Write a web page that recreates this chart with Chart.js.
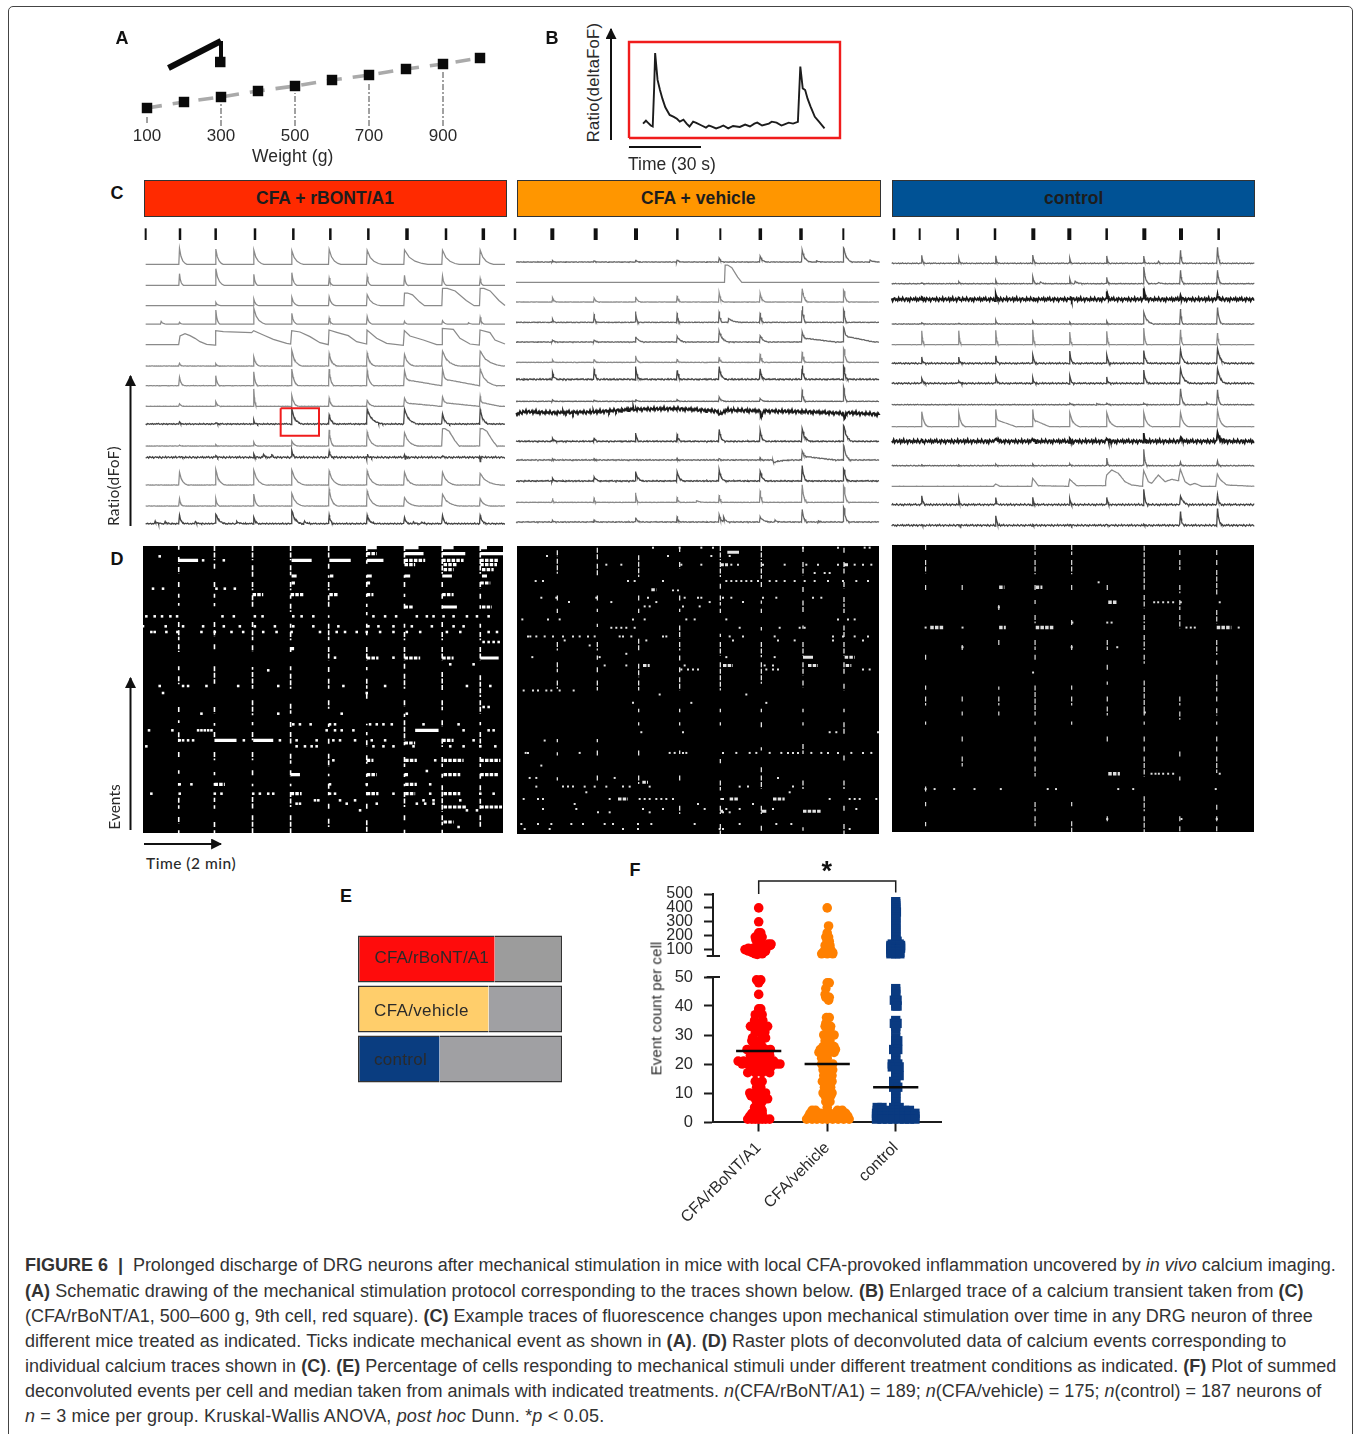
<!DOCTYPE html>
<html><head><meta charset="utf-8"><title>Figure 6</title>
<style>
html,body{margin:0;padding:0;width:1354px;height:1434px;overflow:hidden;background:#fff}
#frame{position:absolute;left:8px;top:6px;width:1345px;height:1500px;border:1px solid #444;border-radius:5px;box-sizing:border-box}
canvas{position:absolute;filter:blur(.4px)}
.t{position:absolute;white-space:nowrap;color:#2a2a2a;font-family:"Liberation Sans",sans-serif;line-height:1}
.banner{position:absolute;border:1px solid #333;box-sizing:border-box}
svg{position:absolute;left:0;top:0}
</style>
<script src="https://cdn.jsdelivr.net/npm/chart.js@4"></script>
</head><body><div id="frame"></div>
<svg width="1354" height="1434" id="deco">
<defs><marker id="ah" viewBox="0 0 10 10" refX="9" refY="5" markerWidth="11" markerHeight="11" markerUnits="userSpaceOnUse" orient="auto"><path d="M0 0L10 5L0 10z" fill="#111"/></marker></defs>
<g stroke="#111" stroke-width="2" fill="none">
<line x1="611" y1="140" x2="611" y2="29" marker-end="url(#ah)"/>
<line x1="629" y1="147" x2="701" y2="147"/>
<line x1="130.5" y1="526" x2="130.5" y2="376" marker-end="url(#ah)"/>
<line x1="130.5" y1="830" x2="130.5" y2="678" marker-end="url(#ah)"/>
<line x1="144" y1="844" x2="221" y2="844" marker-end="url(#ah)"/>
</g></svg>
<script>
// ---------- Panel A ----------
const forceWeights=[100,200,300,400,500,600,700,800,900,1000];
const forceLevels=[18,24,29,35,40,46,51,57,62,68];
const forceTicks=[100,300,500,700,900];
const forceDrops=[[100,3,9],[300,0,23],[500,0,33],[700,0,44],[900,0,55]];
const rampPoints=[[158,58],[300,85]];
const rampStem=[[300,85],[300,66]];
const rampSquare=[[298,64]];
// ---------- Panel B ----------
const transientTime=[5.8,7,7.8,9,9.8,10.4,10.8,11.8,12.8,13.8,15,16.8,18.5,19.8,21,22.5,23.8,25,26.5,27.8,30,31.8,33,34,36,37.8,39,41,43,45.8,48,50,51.8,53,55,57.8,59,61,63,64,66,67.8,69.8,70.8,71.8,72.8,73.8,75,76.8,78.5,80.8];
const transientRatio=[.15,.18,.16,.13,.12,.53,.885,.605,.5,.41,.32,.24,.22,.2,.17,.19,.15,.12,.17,.157,.13,.108,.13,.12,.1,.115,.13,.1,.125,.115,.14,.12,.15,.16,.13,.15,.17,.16,.13,.14,.16,.15,.168,.745,.517,.5,.41,.33,.22,.17,.1];
// ---------- Panel C : stimulus ticks ----------
const stimTicksA=[137,240,347,465,580,691,805,921,1038,1150];
const stimTicksB=[15,127,257,378,502,631,751,873,1000];
const stimTicksC=[27,104,218,330,445,553,665,778,888,1001];
const stimWeightA=[2,2.5,2.5,2.5,2.5,2.5,2.5,3.5,2.5,3.5];
const stimWeightB=[2.5,4,4,4,2.5,2,3.5,3.5,2];
const stimWeightC=[2.5,2,2.5,2.5,4,4,2.5,4,4,2.5];
// ---------- Panel C : transient onsets ----------
const onsetsA=[238,347,461,575,687,801,913,1027,1140];
const onsetsB=[127,252,377,501,627,750,876,1001];
const onsetsC=[110,221,332,443,554,665,776,886,997];
const spanA=[137,1215], spanB=[18,1108], spanC=[20,1108];
const offsetsA=[827,764,703,648,586,522,463,401,348,282,248,165,102,49];
const offsetsB=[834,773,714,653,594,533,482,416,382,296,240,177,113,54];
const offsetsC=[830,769,722,648,586,530,470,406,340,296,223,161,106,44];
const ampsA=[
[48,46,43,41,45,42,43,42,43],[35,50,33,38,22,26,30,28,20],[0,10,20,25,27,33,38,52,52],[5,42,47,32,18,23,8,10,20],
[0,0,0,0,0,0,0,0,0],[8,7,28,47,37,39,35,45,45],[26,30,42,50,50,46,45,50,50],[8,15,52,33,25,18,25,28,30],
[5,4,10,45,28,45,45,32,45],[3,4,12,15,48,42,40,52,52],[5,5,8,22,16,10,10,10,10],[38,47,45,45,42,42,38,38,35],
[22,22,36,38,50,45,25,35,22],[25,30,20,40,25,25,20,25,25]];
const tailsA=[
[22,22,30,35,35,45,70,50,40],[12,25,12,15,12,12,10,12,10],[1,15,15,20,20,40,60,95,75],[10,12,35,15,12,15,10,15,12],
[1,1,1,1,1,1,1,1,1],[12,10,18,30,25,25,30,50,70],[15,12,12,20,15,20,110,110,50],[15,15,8,20,15,25,110,110,60],
[10,10,10,30,20,45,40,20,25],[8,8,12,20,15,30,40,50,50],[8,8,8,12,12,12,10,10,10],[25,28,35,40,35,35,35,40,60],
[12,12,15,35,25,35,40,50,30],[15,30,15,30,15,25,15,15,20]];
const ampsB=[
[4,5,6,8,12,18,35,42],[0,0,0,0,0,0,0,0],[13,12,16,19,28,25,40,35],[10,25,33,30,32,30,48,38],
[6,6,16,17,32,20,30,45],[7,10,20,10,16,26,32,42],[20,30,37,28,37,30,40,38],[4,4,6,6,12,8,35,45],
[0,0,0,0,0,0,0,0],[10,12,25,22,35,32,37,48],[3,5,3,5,5,8,28,45],[7,12,27,28,33,30,45,38],
[12,14,28,16,22,35,52,50],[5,7,14,16,22,15,38,45]];
const tailsB=[
[10,10,12,12,15,20,25,25],[1,1,1,1,1,1,1,1],[15,15,15,12,15,18,18,15],[10,8,8,8,10,10,12,10],
[15,15,25,25,30,25,100,90],[10,10,12,10,12,12,12,15],[15,12,12,12,20,15,12,12],[12,12,12,12,20,20,10,10],
[1,1,1,1,1,1,1,1],[12,12,10,12,18,18,25,25],[8,8,8,8,8,8,100,20],[10,20,20,20,20,20,15,15],
[6,6,8,10,10,10,15,15],[10,12,15,10,15,30,15,15]];
const ampsC=[
[25,15,22,25,15,22,22,38,48],[2,6,10,22,14,20,50,40,40],[2,2,15,3,3,25,35,10,20],[4,2,12,8,5,8,35,45,50],
[42,42,43,45,38,40,50,45,35],[17,17,20,27,35,27,38,40,45],[17,8,20,15,22,17,38,42,45],[0,0,0,0,5,5,5,48,44],
[45,42,52,52,42,42,42,42,50],[2,0,12,10,5,10,20,15,30],[2,2,5,5,6,22,50,12,15],[0,0,0,0,0,0,0,0,0],
[26,18,22,20,18,22,45,28,30],[1,1,28,2,2,2,3,42,48]];
const tailsC=[
[8,8,8,10,8,8,8,8,10],[8,8,8,10,8,8,15,10,12],[8,8,8,8,8,8,8,8,8],[10,8,8,8,8,8,30,8,15],
[8,8,8,8,8,8,10,8,8],[10,10,12,10,12,10,15,20,25],[10,10,12,10,12,10,15,30,25],[8,8,8,8,10,10,10,15,12],
[20,20,60,50,30,30,25,25,25],[8,8,15,10,8,10,10,12,20],[8,8,8,8,8,8,10,8,8],[1,1,1,1,1,1,1,1,1],
[12,8,8,8,8,8,12,25,12],[8,8,10,8,8,8,8,10,15]];
// rows with a plateau ("p") or a slow shoulder ("s")
const shapeKindsA={"2,7":"p","2,8":"p","2,6":"p","6,6":"s","6,7":"s","7,6":"s","7,7":"s","7,8":"s","9,7":"p","9,8":"p"};
const shapeKindsB={"4,6":"s","4,7":"s","10,6":"s"};
const shapeKindsC={"8,2":"s","8,3":"s"};
// extra small events [time, amplitude, tail, kind]
const extrasA={3:[[183,8,15],[1105,4,12]],10:[[490,10,12],[515,8,12],[800,-10,3],[915,-8,3],[1027,-8,3],[1140,-25,4]],13:[[165,6,22],[195,5,18],[285,6,18],[410,6,25],[612,7,20],[940,5,15],[965,5,15]]};
const extrasB={0:[[1080,5,30],[920,3,25]],1:[[645,52,50,"p"]],3:[[655,12,40]],10:[[790,-8,60]],12:[[560,5,25]],13:[[640,15,18],[795,5,20],[925,3,15]]};
const extrasC={1:[[465,5,20],[570,7,25],[820,4,20]],7:[[635,3,20],[965,5,20]],0:[[820,5,10]]};
// hand-read full traces, [time, height above the baseline]
const literalA={4:[[137,0],[236,0],[240,26],[255,33],[270,27],[285,19],[300,9],[320,1],[345,-1],[347,42],[370,39],[455,36],[461,42],[490,29],[520,16],[560,4],[572,2],[575,42],[600,38],[630,24],[660,6],[685,0],[687,44],[710,37],[745,27],[770,9],[800,2],[801,44],[830,19],[860,4],[910,-2],[913,42],[930,26],[970,14],[1010,0],[1026,0],[1027,49],[1060,46],[1080,19],[1110,2],[1138,-1],[1140,44],[1170,36],[1185,14],[1215,2]]};
const literalB={8:[[18,-5],[40,3],[130,0],[250,2],[370,10],[500,12],[620,5],[630,-5],[650,8],[750,5],[752,-15],[760,5],[880,3],[1000,-2],[1003,-20],[1010,0],[1108,-5]]};
const literalC={11:[[20,0],[325,0],[332,7],[345,0],[440,0],[443,24],[460,2],[550,0],[554,21],[575,2],[660,2],[665,34],[680,49],[700,39],[720,14],[740,4],[772,0],[776,47],[790,14],[800,9],[820,34],[840,14],[860,21],[880,17],[886,51],[900,14],[915,4],[930,9],[950,0],[992,0],[997,37],[1005,21],[1025,4],[1108,0]]};
const noiseA=[0,0,0,0,0,.5,.5,.5,2,.5,3,.3,.3,2];
const noiseB=[1,0,.6,1.2,1.2,.8,2.5,1,6,2,1.8,2,.6,1.5];
const noiseC=[1.5,1.2,6,1,.3,2.5,2.5,1.2,.3,6,1.5,.3,3,3];
const wobble=[.3,-.6,.8,-.2,-.9,.5,.1,-.4,.9,-.7,.2,.6,-.5,-.1,.7,-.8,.4,-.3,1,-.6,-.2,.5,-.9,.3,.6,-.4,.1,-.7,.8,-.3,.2,-.5,.9,-.1,-.8,.4,.6,-.6,.2,-.9,.7,.1,-.4,.5,-.2,.8,-.7,.3,-.5,.6,-.1,.9,-.6,-.3,.4,-.8,.7,.2,-.4,.5,-.9,.1,.6,-.2];
// shapes of the decay, [fraction of tail, fraction of amplitude]
const kernelFast=[[0,1],[.2,.5],[.45,.22],[.75,.06],[1,0]];
const kernelPlateau=[[0,1],[.15,1],[.4,.85],[.75,.3],[1,0]];
const kernelSlow=[[0,1],[.05,.5],[.12,.36],[1,0]];
const redBoxA=[[542,395],[657,395],[657,313],[542,313],[542,395]];
// ---------- Panel D : rasters, streaks [column, from, to ...], bursts [row, from, to, solid?], rows [row, columns] ----------
const streaksA=[
[237,17,28,50,70,80,100,125,140,160,172,188,196,245,262,270,300,312,335,378,390,408,432,500,518,540,548,576,605,635,650,690,700,728,736,772,790,795,805,830,850,870,878],
[344,17,60,70,90,125,140,160,172,188,198,245,262,270,290,312,330,378,430,500,520,548,556,575,590,635,660,695,705,728,736,772,785,795,805,845,860,870,878],
[458,17,60,75,110,125,150,165,200,245,262,270,300,315,335,380,388,395,445,480,525,545,555,575,600,635,660,690,705,730,738,770,805,825,878],
[572,17,60,75,105,125,150,165,175,190,215,250,262,275,300,320,335,378,390,400,445,490,520,545,560,575,610,640,670,690,710,730,738,755,800,825,878],
[686,17,55,70,85,105,112,125,150,165,200,225,232,250,300,320,360,380,395,415,445,480,505,550,560,595,612,640,680,700,708,730,745,755,765,790,810,835,860],
[800,17,50,60,70,105,112,125,140,160,170,190,200,215,225,250,262,275,285,320,360,380,390,415,445,460,480,550,555,575,585,600,620,645,670,700,710,730,738,755,765,790,805,840,878],
[913,17,70,105,112,125,140,160,170,190,210,250,262,275,300,320,360,370,390,400,445,480,500,520,530,540,600,605,615,650,680,700,710,730,738,755,800,825,840,868,878],
[1026,17,100,125,140,160,175,195,205,245,262,275,300,320,360,395,450,480,510,540,560,595,620,650,680,700,712,735,815,825,855,868,878],
[1140,17,100,125,145,160,175,195,205,250,262,275,300,320,360,405,470,480,520,545,555,575,620,650,680,700,715,735,755,775,805,825,860]];
const burstsA=[[60,237,295,1],[60,575,635,1],[60,688,752,1],[60,800,850,1],[22,800,830,1],[22,913,955,1],[22,1026,1060,1],[22,1140,1160,1],[40,800,830],[40,913,970,1],[40,1026,1095,1],[40,1140,1208,1],[60,913,975],[60,1026,1090],[60,1140,1195],[73,913,945],[73,1030,1070],[73,1140,1190],[88,1030,1060],[88,1145,1180],[107,575,590,1],[107,690,700,1],[107,800,815,1],[107,913,930,1],[107,1026,1055,1],[107,1145,1160,1],[128,575,585],[128,800,810],[128,1140,1170],[163,458,490],[163,572,610],[163,688,715],[163,800,820],[163,1026,1060],[200,913,940],[200,1026,1070,1],[200,1145,1175],[353,800,835],[353,913,960],[353,1026,1060],[353,1140,1195,1],[600,344,410,1],[600,460,520,1],[608,913,945],[600,1026,1060],[570,945,1015,1],[660,800,820],[660,915,950],[660,1030,1090],[660,1140,1200],[703,572,600,1],[703,800,830],[703,913,925],[703,1030,1080],[703,1140,1195],[732,344,375],[732,915,950],[760,572,605],[760,800,835],[760,915,945],[760,1030,1080],[800,1030,1100],[800,1140,1205],[845,1030,1060],[325,572,585]];
const rowsA=[[48,[180]],[60,[310,372]],[145,[160,190,350,375,405]],[228,[140,165,187,212,232,368,402,465,488,580,605,640,820,855,888,950,980,1000,1030,1060,1100,1130,1165]],[258,[130,198,250,310,372,420,465,525,580,640,715,805,835,880,935,995,1060,1090]],[275,[155,165,200,233,305,345,395,430,490,530,575,660,710,735,770,800,840,880,920,960,1040,1080,1165,1190]],[305,[1150,1165,1180,1195]],[352,[705,880]],[372,[1050,1120]],[390,[505]],[437,[180,250,265,320,415,535,730,855,1100,1170]],[458,[190,800]],[500,[1150,1165]],[520,[305,535,725,920]],[552,[580,600,632,690,705,810,830,850,875,970,1075]],[570,[148,218,295,305,315,325,335,680,705,725,760,1090,1165,1180]],[600,[240,250,265,280,432,540,590,650,700,720,765,815,855,1120]],[618,[140,590,615,635,650,820,850,880,940,1050,1090,1140,1185]],[660,[700,1005]],[692,[980]],[732,[240,275,690,800,990]],[760,[155,240,345,365,460,480,505,520,690,705,880,990,1140,1180]],[780,[645,655,720,765,970,1000,1080]],[790,[590,600,740,830,950,975,1000]],[810,[780,1100,1130]],[860,[1075]]];
const streaksB=[
[143,30,50,55,100,165,180,205,218,305,330,365,395,420,445,595,605,635,645,710,720],
[263,22,60,70,105,165,180,205,215,250,260,305,330,345,358,380,400,420,450,595,605,630,645,705,720],
[387,45,110,165,180,205,218,295,330,370,410,420,450,505,515,545,555,630,645,705,730],
[510,22,35,65,85,165,185,205,215,255,295,305,330,345,360,380,395,410,450,505,515,545,555,630,640,705,720,795,820],
[632,17,60,65,110,130,145,165,195,205,218,280,290,305,345,365,450,505,515,545,555,655,668,720,750,795,820,850,880],
[755,17,60,65,115,125,140,180,190,205,218,260,270,305,350,365,430,505,515,545,560,620,630,680,695,705,745,795,820,855,870],
[880,22,35,65,105,140,155,180,218,255,265,305,345,365,405,420,440,505,515,545,555,610,640,720,745,860,870],
[1003,22,40,65,100,125,145,170,200,205,218,255,290,305,345,365,400,430,450,505,515,545,580,645,660,720,745,795,815,850,880]];
const burstsB=[[36,653,688,1],[73,632,655],[73,1003,1015,1],[350,880,910,1],[350,1005,1035],[375,400,420],[375,640,670],[375,895,925],[375,1008,1025],[812,880,935],[812,632,640,1],[812,755,770,1],[148,425,440],[725,398,415],[775,325,355],[775,660,685],[775,790,825]];
const rowsB=[[22,[430,510,575,610,880,985,1065,1080]],[47,[112,475,605,660]],[73,[290,335,515,575,665,685,760,825,890,925,985,1035,1060,1085]],[98,[915,945,960]],[122,[78,100,355,375,460,650,665,680,695,710,725,745,780,800,825,855,885,915,955,1000,1040,1075]],[150,[490,505]],[172,[95,140,260,415,525,565,575,640,665,760,800,910,935]],[185,[178,305,440,600,700]],[198,[405,420,520,570]],[237,[38,115,150,370,405,530,555,650,985,1015,1035]],[262,[305,320,335,350,375,690,810,870,885]],[288,[55,62,80,105,130,160,190,210,235,255,330,340,365,460,470,660,700,795,970,1000,1035,1075]],[300,[165,410,670,805,855,970,1060]],[315,[240]],[340,[350]],[350,[68,270,650,795]],[375,[285,350,525,765,790]],[387,[515,535,550,565,770,790,805,1060,1080]],[450,[42,70,85,110,125,150,192]],[462,[450,710]],[487,[370,545,770]],[575,[395,520,960,980,1105]],[600,[105]],[637,[48,55,210,480,495,520,530,640,680,720,740,780,815,835,850,865,905,935,955,985,1025,1060,1085]],[675,[95]],[712,[60,80,315,805]],[738,[80,160,175,190,225,255,290,340,360,420,690,715,850]],[755,[230,840]],[775,[42,85,100,300,390,405,420,440,455,470,490,635,640,960,1020,1035,1050,1100]],[790,[195,565,730]],[805,[100,200,400,460,585,650,690,790,1040]],[815,[265,300,420,640,660]],[850,[35,85,125,185,220,285,310,385,425,555,690,800,845]],[865,[45,120,340,385,630,640,1020]]];
const streaksC=[
[121,15,30,60,100,135,150,345,360,437,450,470,497,545,555,740,755,787,800,847,860],
[231,135,150,315,330,470,485,515,527,590,605,650,680],
[341,195,210,300,315,440,450,470,497,515,527],
[450,15,45,60,103,135,150,180,192,225,250,300,330,345,360,437,527,545,555,590,605,620,635,650,665,680,710,787,815,830,860],
[560,15,45,60,103,135,150,240,255,315,330,437,450,470,497,545,555,787,800,845,877],
[667,135,150,300,330,375,390,425,435,470,485,500,527,590,605,830,845],
[778,17,150,165,205,225,250,255,270,285,330,345,372,422,515,515,527,545,555,590,605,620,635,650,710,770,815,830,877],
[885,30,45,60,90,135,160,180,210,225,265,470,497,515,540,635,650,710,722,830,845,860,877],
[996,30,45,60,75,90,165,210,250,300,345,362,375,405,455,470,485,505,527,545,555,590,605,620,635,650,700,795,815,830,845,860,877]];
const burstsC=[[142,342,358],[142,452,472],[187,670,698],[263,135,175],[263,342,362],[263,452,505],[263,996,1040],[702,670,705]];
const rowsC=[[127,[641]],[187,[808,820,835,850,865,888,1005]],[202,[341]],[248,[562,667,680]],[263,[121,232,905,918,930,1062]],[322,[232,560,697]],[398,[444]],[702,[800,812,822,835,850,865,1005]],[748,[121,148,207,268,347,488,513,700,745,993]],[518,[780]],[838,[667,890,996]]];
// ---------- Panel E ----------
const shareNames=["CFA/rBoNT/A1","CFA/vehicle","control"];
const shareResponding=[67,64,40];
const shareOther=[33,36,60];
// ---------- Panel F : [value, offsets from the category centre] ----------
const swarmRedLow=[[49,-.03,.03],[48,.0],[44,0],[39,0,.03],[37,-.05,.05],[35,-.06,.06],[33,-.12,-.05,.02,.08,.13],[31,-.05,.03,.09],[29,-.09,.05,.1],[28,-.1,-.03,.03],[26,-.05,.05],[25,-.17,-.1,-.04,.03,.1,.17],[23,-.12,0,.08,.16],[21,-.3,-.22,-.14,-.05,.03,.12,.22],[20,-.24,-.16,-.05,.05,.16,.26,.31],[19,-.12,0,.1,.18],[17,-.16,-.05,.05,.16],[14,-.05,.05],[12,-.03,.03],[10,-.13,-.05,.03,.1],[9,-.11,0,.08],[8,-.05,.05,.13],[7,-.03,.05],[5,-.06,.03],[4,-.06,.05],[3,-.1,-.03,.05],[2,-.13,-.05,.05],[1,-.16,-.1,-.05,0,.05,.1,.16]];
const swarmRedHigh=[[400,0],[300,0],[220,0,.03],[190,-.05,.05],[170,0,-.04,.03],[140,-.02,.05,.14,.18],[130,.1,.17],[110,-.15,-.08,.02,.08],[100,-.2,-.12,-.05,.05,.1],[90,-.15,-.05,0,.1],[80,-.1,-.02,.07],[70,-.05,.05],[65,-.02]];
const swarmOrangeLow=[[48,0,.03],[46,-.02],[44,-.03],[43,-.02,.03],[42,.02],[36,-.01,.03],[34,-.02],[33,-.03,.05],[32,0,.04],[30,-.05,0,.06,.1],[28,-.03,.04],[26,-.06,.03,.1],[25,-.1,-.03,.05,.12],[24,-.12,-.05,.03,.1],[22,-.08,0],[20,-.08,0,.08],[18,-.06,.03,.08],[16,-.05,.02,.07],[14,-.07,0,.07],[12,-.04,.05],[10,-.06,.02,.07],[9,-.03,.05],[7,-.02,.04],[5,0],[4,-.22,-.17,.15,.22],[3,-.25,-.18,-.1,-.03,.04,.12,.2,.27],[2,-.27,-.2,-.12,-.04,.05,.14,.22,.3],[1,-.3,-.22,-.15,-.07,0,.08,.16,.24,.32]];
const swarmOrangeHigh=[[400,0],[270,.02],[220,0],[190,-.02,.02],[160,0,.03],[130,-.03,.04],[100,-.03,.05],[80,-.06,.03,.08],[70,-.08,0,.08]];
const swarmBlueLow=[[46,0],[45,0],[44,0],[42,-.02,.02],[41,0],[40,0,.02],[35,0],[34,-.02,.02],[33,0],[32,0],[29,0],[28,0,.03],[27,0],[26,0],[25,-.03,.03],[24,0],[22,0],[21,0],[20,-.05,.03],[19,-.05,.05],[18,0],[16,0,.05],[15,0],[14,-.03],[13,0],[12,-.03,.03],[11,0],[10,0],[9,0],[8,0],[7,0],[6,0],[5,-.27,-.2,-.03,.05],[4,-.27,-.2,-.12,-.03,.05,.13,.2],[3,-.28,-.2,-.12,-.04,.05,.13,.2,.28],[2,-.28,-.2,-.12,-.04,.05,.13,.2,.28],[1,-.28,-.2,-.12,-.04,.05,.13,.2,.28]];
const swarmBlueHigh=[[445,0],[430,0],[415,0],[400,0],[385,0],[370,.01],[350,0],[335,0],[320,0],[300,0],[285,0],[270,0],[250,0],[235,0],[220,0],[205,0],[190,0],[170,0],[160,0,.02],[150,0],[140,-.05,.05],[130,-.07,0,.07],[120,-.07,0,.07],[110,-.07,.07],[100,-.07,0,.05],[90,-.05,.05],[80,-.07,0,.06],[70,-.07,0,.06]];
const swarmMedians=[24.5,20,12];
const swarmNames=["CFA/rBoNT/A1","CFA/vehicle","control"];
const bracketLevels=[[1,500],[1,594],[3,594],[3,510]];
const captionLines=[
'<b>FIGURE 6&nbsp; |&nbsp;</b> Prolonged discharge of DRG neurons after mechanical stimulation in mice with local CFA-provoked inflammation uncovered by <i>in vivo</i> calcium imaging.',
'<b>(A)</b> Schematic drawing of the mechanical stimulation protocol corresponding to the traces shown below. <b>(B)</b> Enlarged trace of a calcium transient taken from <b>(C)</b>',
'(CFA/rBoNT/A1, 500–600 g, 9th cell, red square). <b>(C)</b> Example traces of fluorescence changes upon mechanical stimulation over time in any DRG neuron of three',
'different mice treated as indicated. Ticks indicate mechanical event as shown in <b>(A)</b>. <b>(D)</b> Raster plots of deconvoluted data of calcium events corresponding to',
'individual calcium traces shown in <b>(C)</b>. <b>(E)</b> Percentage of cells responding to mechanical stimuli under different treatment conditions as indicated. <b>(F)</b> Plot of summed',
'deconvoluted events per cell and median taken from animals with indicated treatments. <i>n</i>(CFA/rBoNT/A1) = 189; <i>n</i>(CFA/vehicle) = 175; <i>n</i>(control) = 187 neurons of',
'<i>n</i> = 3 mice per group. Kruskal-Wallis ANOVA, <i>post hoc</i> Dunn. *<i>p</i> &lt; 0.05.'];
const captionRight=[1336,1304,1313,1286,1336,1321,604];
const captionY=[1265,1291,1316,1341,1366,1391,1416];

// ---------- helpers ----------
Chart.defaults.animation=false;
Chart.defaults.events=[];
Chart.defaults.plugins.legend.display=false;
Chart.defaults.plugins.tooltip.enabled=false;
Chart.defaults.font.family='"Liberation Sans",sans-serif';
Chart.defaults.elements.point.radius=0;
Chart.defaults.elements.line.tension=0;
Chart.defaults.layout.autoPadding=false;
const INK='#2a2a2a';
function place(l,t,w,h,bg){const c=document.createElement('canvas');c.width=w;c.height=h;
  c.style.left=l+'px';c.style.top=t+'px';c.style.width=w+'px';c.style.height=h+'px';if(bg)c.style.background=bg;
  document.body.appendChild(c);return c;}
function draw(l,t,w,h,datasets,scales,padding,bg){
  return new Chart(place(l,t,w,h,bg),{type:'scatter',data:{datasets},
    options:{responsive:false,devicePixelRatio:1,scales,layout:{autoPadding:false,padding:padding||0}}});}
const hidden=(min,max,reverse)=>({type:'linear',display:false,min,max,reverse:!!reverse});
const pairs=a=>a.map(p=>({x:p[0],y:p[1]}));
const stroke=(data,color,w,more)=>Object.assign({data,borderColor:color,backgroundColor:color,borderWidth:w,showLine:true,pointRadius:0,clip:false},more||{});
function text(str,cx,cy,o){o=o||{};const d=document.createElement('div');d.className='t';d.innerHTML=str;
  d.style.font=`${o.weight||'normal'} ${o.size||16}px ${o.family||'"Liberation Sans",sans-serif'}`;
  if(o.color)d.style.color=o.color;
  document.body.appendChild(d);
  if(o.width){const n=d.textContent.length;d.style.letterSpacing=((o.width-d.offsetWidth)/n)+'px';}
  const w=d.offsetWidth,h=d.offsetHeight;
  d.style.left=(cx-w/2)+'px';d.style.top=(cy-h/2)+'px';
  if(o.rot)d.style.transform=`rotate(${o.rot}deg)`;
  return d;}

// ---------- Panel A ----------
draw(100,20,420,150,[
  {data:forceWeights.map((x,i)=>({x,y:forceLevels[i]})),pointStyle:'rect',pointRadius:7.4,backgroundColor:'#0a0a0a',borderWidth:0,clip:false},
  {data:pairs(rampSquare),pointStyle:'rect',pointRadius:7.4,backgroundColor:'#0a0a0a',borderWidth:0,clip:false},
  stroke(pairs(rampPoints),'#0a0a0a',6,{borderCapStyle:'butt'}),
  stroke(pairs(rampStem),'#0a0a0a',4),
  stroke(forceWeights.map((x,i)=>({x,y:forceLevels[i]})),'#aaaaaa',3.6,{borderDash:[15,11]}),
  ...forceDrops.map(d=>stroke(pairs([[d[0],d[1]],[d[0],d[2]]]).map(p=>p),'#444',1,{borderDash:[6,2,2,2]}))
],{
  x:{type:'linear',min:100-47/.37,max:100+373/.37,grid:{display:false,drawTicks:false},border:{display:false},
     afterBuildTicks:a=>{a.ticks=forceTicks.map(value=>({value}));},
     afterFit:s=>{s.height=44;s.paddingLeft=0;s.paddingRight=0;},
     ticks:{color:INK,font:{size:17},padding:0,maxRotation:0,autoSkip:false}},
  y:hidden(0,106)
});
text('Weight (g)',292.5,156.5,{width:81,size:17.5});
text('A',122,38,{weight:'bold',size:18,color:'#111'});
text('B',552,38,{weight:'bold',size:18,color:'#111'});
text('C',117,193,{weight:'bold',size:18,color:'#111'});
text('D',117,559,{weight:'bold',size:18,color:'#111'});
text('E',346,896,{weight:'bold',size:18,color:'#111'});
text('F',635,870,{weight:'bold',size:18,color:'#111'});

// ---------- Panel B ----------
draw(627,40,216,100,[
  stroke(transientTime.map((x,i)=>({x,y:transientRatio[i]})),'#1c1c1c',1.9),
  stroke(pairs([[0,0],[87.2,0],[87.2,1],[0,1],[0,0]]),'#f01c1c',2.4)
],{x:hidden(-.83,88.44),y:hidden(-.021,1.021)});
text('Ratio(deltaFoF)',594,82,{width:120,rot:-90,size:16.5});
text('Time (30 s)',672,164,{width:88,size:17.5});

// ---------- Panel C banners ----------
[[143.5,363,'#ff2a00','CFA + rBONT/A1',138],[516.5,364,'#ff9600','CFA + vehicle',115],[892,363,'#005295','control',59]].forEach(b=>{
  const d=document.createElement('div');d.className='banner';d.style.cssText+=`left:${b[0]}px;top:179.5px;width:${b[1]}px;height:37.5px;background:${b[2]}`;
  document.body.appendChild(d);
  text(b[3],b[0]+b[1]/2,198,{weight:'bold',size:17.5,width:b[4],color:'#1d1d1d'});
});

// ---------- Panel C traces ----------
const kernels={f:kernelFast,p:kernelPlateau,s:kernelSlow};
function evalCurve(c,x){if(x<=c[0][0]||x>=c[c.length-1][0])return (x<=c[0][0]?c[0][1]:c[c.length-1][1]);
  for(let i=1;i<c.length;i++)if(x<=c[i][0]){const a=c[i-1],b=c[i];return a[1]+(b[1]-a[1])*(x-a[0])/(b[0]-a[0]||1);}return 0;}
function traceData(row,offset,span,onsets,amps,tails,kinds,extras,literal,noise){
  const curves=[];
  const addEvent=(t,a,tail,k)=>{if(!a)return;const K=kernels[k||'f'];
    curves.push([[t-1.5,0],[t+.5,a],...K.slice(1).map(p=>[t+.5+p[0]*tail,a*p[1]])]);};
  onsets.forEach((t,i)=>addEvent(t,amps[i],tails[i],kinds[row+','+i]));
  (extras[row]||[]).forEach(e=>addEvent(e[0],e[1],e[2],e[3]));
  if(literal[row])curves.push(literal[row]);
  const xs=new Set([span[0],span[1]]);
  curves.forEach(c=>c.forEach(p=>{if(p[0]>=span[0]&&p[0]<=span[1])xs.add(p[0]);}));
  if(noise)for(let x=span[0];x<=span[1];x+=3)xs.add(x);
  return [...xs].sort((a,b)=>a-b).map(x=>{
    let y=0;curves.forEach(c=>{y+=evalCurve(c,x);});
    if(noise)y+=noise*wobble[(Math.round(x/3)+row*7)%wobble.length];
    return {x,y:offset+y};});
}
function tracePanel(l,w,span,ticks,weights,onsets,offsets,amps,tails,kinds,extras,literal,noise,annot){
  const ds=[];
  offsets.forEach((o,r)=>{
    const n=noise[r];
    ds.push(stroke(traceData(r,o,span,onsets,amps[r],tails[r],kinds,extras,literal,n),n>=4?'#1a1a1a':n>=2?'#444':n>=1?'#666':'#8a8a8a',n>=4?1.8:n>=2?1.3:1.25));
  });
  ticks.forEach((x,i)=>ds.push(stroke(pairs([[x,900],[x,935]]),'#111',weights[i])));
  if(annot)ds.unshift(stroke(pairs(annot),'#f01c1c',2));
  draw(l,220,w,320,ds,{x:hidden(0,w*3),y:hidden(0,960)});
}
tracePanel(100,410,spanA,stimTicksA,stimWeightA,onsetsA,offsetsA,ampsA,tailsA,shapeKindsA,extrasA,literalA,noiseA,redBoxA);
tracePanel(510,380,spanB,stimTicksB,stimWeightB,onsetsB,offsetsB,ampsB,tailsB,shapeKindsB,extrasB,literalB,noiseB);
tracePanel(885,380,spanC,stimTicksC,stimWeightC,onsetsC,offsetsC,ampsC,tailsC,shapeKindsC,extrasC,literalC,noiseC);
text('Ratio(dFoF)',113,486,{family:'Lato',size:15.5,width:80,rot:-90});

// ---------- Panel D rasters ----------
function raster(l,t,w,h,xr,yr,streaks,bursts,rows,white,sw,bw,dr){
  const sp=[],bs=[],bd=[];
  streaks.forEach(s=>{for(let i=1;i<s.length;i+=2){sp.push({x:s[0],y:s[i]},{x:s[0],y:s[i+1]},{x:s[0],y:NaN});}});
  bursts.forEach(b=>{(b[3]?bs:bd).push({x:b[1],y:b[0]},{x:b[2],y:b[0]},{x:b[2],y:NaN});});
  const dp=[];rows.forEach(r=>r[1].forEach(x=>dp.push({x,y:r[0]})));
  draw(l,t,w,h,[
    stroke(sp,white,sw,{spanGaps:false,clip:true,borderDash:[5,1.5]}),
    stroke(bs,white,bw,{spanGaps:false,clip:true}),
    stroke(bd,white,bw,{spanGaps:false,clip:true,borderDash:[3.5,1.2]}),
    {data:dp,pointStyle:'rect',pointRadius:dr,backgroundColor:white,borderWidth:0}
  ],{x:hidden(xr[0],xr[1]),y:hidden(yr[0],yr[1],true)},0,'#000');
}
raster(143,546,360,287,[130,1208],[17,878],streaksA,burstsA,rowsA,'#ffffff',1.6,3.2,1.8);
raster(517,546,362,288,[22,1108],[17,880],streaksB,burstsB,rowsB,'#e4e4e4',1.3,3,1.4);
raster(892,545,362,287,[20,1108],[15,877],streaksC,burstsC,rowsC,'#dddddd',1.2,3.4,1.4);
text('Events',113,807,{family:'Lato',size:15.5,width:45,rot:-90});
text('Time (2 min)',191,863,{family:'Lato',size:15.5,width:90,weight:'500'});

// ---------- Panel E ----------
new Chart(place(358,934,204,150),{type:'bar',data:{labels:shareNames,datasets:[
  {data:shareResponding,backgroundColor:['#fe0c0c','#ffce6b','#0a3d80'],borderColor:'#333',borderWidth:{left:1.5,top:1.5,bottom:1.5,right:0},borderSkipped:false,barPercentage:.94,categoryPercentage:1},
  {data:shareOther,backgroundColor:['#9c9c9c','#a0a0a3','#a0a0a3'],borderColor:'#333',borderWidth:{left:0,top:1.5,bottom:1.5,right:1.5},borderSkipped:false,barPercentage:.94,categoryPercentage:1}
]},options:{indexAxis:'y',responsive:false,devicePixelRatio:1,layout:{autoPadding:false},
  scales:{x:{type:'linear',display:false,stacked:true,min:0,max:100},y:{type:'category',display:false,stacked:true}}}});
text(shareNames[0],431.5,958,{width:114,size:17});
text(shareNames[1],421.5,1011,{width:95,size:17});
text(shareNames[2],400.5,1060,{width:53,size:17});

// ---------- Panel F ----------
function swarm(rows,cat){const out=[];rows.forEach(r=>{for(let i=1;i<r.length;i++)out.push({x:cat+r[i],y:r[0]});});return out;}
const xMin=.333,xMax=3.661;
const dot=(data,c,style,r)=>({data,backgroundColor:c,borderWidth:0,pointStyle:style,pointRadius:r,clip:false});
const axisY=(min,max,ticks,size)=>({type:'linear',min,max,position:'left',
  afterBuildTicks:a=>{a.ticks=ticks.map(value=>({value}));},
  afterFit:s=>{s.width=83;s.paddingTop=0;s.paddingBottom=0;},
  border:{display:true,color:'#1c1c1c',width:2},
  grid:{display:true,drawOnChartArea:false,drawTicks:true,tickLength:9,tickColor:'#1c1c1c',tickWidth:2},
  ticks:{color:INK,font:{size},padding:11,autoSkip:false}});
draw(630,875,330,85,[
  stroke(pairs(bracketLevels),'#1c1c1c',1.5),
  stroke(pairs([[.241,54],[.435,54]]),'#1c1c1c',2),
  dot(swarm(swarmRedHigh,1),'#ff0000','circle',4.8),
  dot(swarm(swarmOrangeHigh,2),'#ff8000','circle',4.8),
  dot(swarm(swarmBlueHigh,3),'#0a3a80','rect',6.6)
],{x:{type:'linear',display:false,min:xMin,max:xMax},y:axisY(54,500,[100,200,300,400,500],16)},{top:19,bottom:4,right:19});
draw(630,960,330,270,[
  ...swarmMedians.map((m,i)=>stroke(pairs([[i+1-.33,m],[i+1+.33,m]]),'#0a0a0a',2.6)),
  stroke(pairs([[.241,50],[.435,50]]),'#1c1c1c',2),
  dot(swarm(swarmRedLow,1),'#ff0000','circle',4.8),
  dot(swarm(swarmOrangeLow,2),'#ff8000','circle',4.8),
  dot(swarm(swarmBlueLow,3),'#0a3a80','rect',6.6)
],{
   x:{type:'linear',min:xMin,max:xMax,
     afterBuildTicks:a=>{a.ticks=[1,2,3].map(value=>({value}));},
     afterFit:s=>{s.height=108;s.paddingLeft=0;s.paddingRight=0;},
     border:{display:true,color:'#1c1c1c',width:2},
     grid:{display:true,drawOnChartArea:false,drawTicks:true,tickLength:9.5,tickColor:'#1c1c1c',tickWidth:2},
     ticks:{color:INK,font:{size:16},minRotation:45,maxRotation:45,padding:7,autoSkip:false,callback:v=>swarmNames[v-1]}},
   y:axisY(0,50,[0,10,20,30,40,50],16.5)},{top:17,right:19});
text('Event count per cell',656,1008,{size:15,width:134,rot:-90});
text('*',827,871,{weight:'bold',size:27,color:'#111'});

// ---------- caption ----------
captionLines.forEach((h,i)=>{
  const d=document.createElement('div');d.className='t';d.innerHTML=h;
  d.style.font='18px "Liberation Sans",sans-serif';d.style.color='#333';
  document.body.appendChild(d);
  const w=d.offsetWidth,n=d.textContent.length;
  d.style.letterSpacing=((captionRight[i]-25-w)/n)+'px';
  d.style.left='25px';d.style.top=(captionY[i]-d.offsetHeight/2)+'px';
});
</script></body></html>
